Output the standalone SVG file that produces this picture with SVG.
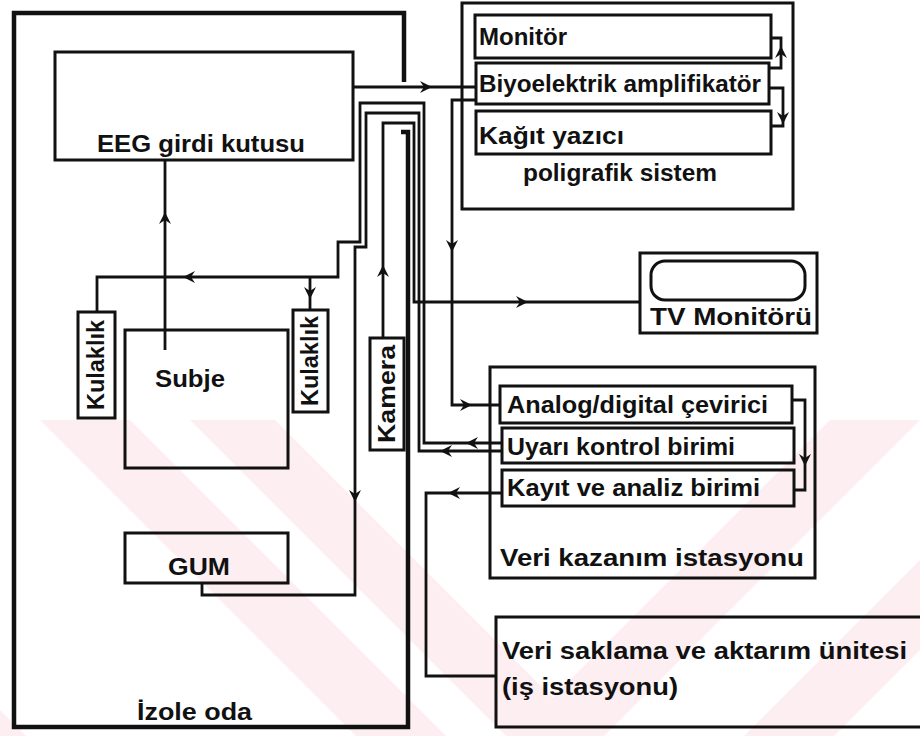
<svg xmlns="http://www.w3.org/2000/svg" xmlns:xlink="http://www.w3.org/1999/xlink" width="920" height="736" viewBox="0 0 920 736">
<style>
.box{fill:none;stroke:#111;stroke-width:3}
.room{fill:none;stroke:#111;stroke-width:4.5}
.wire{fill:none;stroke:#111;stroke-width:2.8}
.t{font-family:"Liberation Sans",Arial,sans-serif;font-weight:bold;fill:#111;font-size:23px}
.wm{fill:#fdeef1}
</style>
<defs>
<path id="ah" d="M0,0 L-12,-6 L-8,0 L-12,6 Z" fill="#111"/>
<clipPath id="wmclip"><rect x="0" y="420" width="920" height="316"/></clipPath>
</defs>
<rect width="920" height="736" fill="#fff"/>
<g id="watermark" clip-path="url(#wmclip)">
<polygon class="wm" points="40,420 130,420 446,736 356,736"/>
<polygon class="wm" points="190,420 275,420 591,736 506,736"/>
<polygon class="wm" points="830,420 920,420 604,736 514,736"/>
<polygon class="wm" points="920,560 920,650 834,736 744,736"/>
<polygon class="wm" points="0,620 0,710 26,736 0,736"/>
</g>

<g id="izole-oda">
<path class="room" d="M404,82 V13 H14 V727 H408 V132 H401"/>
<text class="t" x="137" y="720" textLength="115" lengthAdjust="spacingAndGlyphs">İzole oda</text>
</g>

<g id="eeg">
<rect class="box" x="55" y="52" width="298" height="108"/>
<text class="t" x="97" y="152" font-size="25" textLength="208" lengthAdjust="spacingAndGlyphs">EEG girdi kutusu</text>
</g>

<g id="subje">
<rect class="box" x="125" y="330" width="163" height="138"/>
<text class="t" x="155" y="387" font-size="24" textLength="70" lengthAdjust="spacingAndGlyphs">Subje</text>
</g>

<g id="kulaklik-sol">
<rect class="box" x="78" y="312" width="37" height="106"/>
<text class="t" transform="translate(96.5,365) rotate(-90)" x="0" y="7.5" text-anchor="middle" font-size="21" textLength="90" lengthAdjust="spacingAndGlyphs">Kulaklık</text>
</g>

<g id="kulaklik-sag">
<rect class="box" x="293" y="310" width="35" height="102"/>
<text class="t" transform="translate(310.5,361) rotate(-90)" x="0" y="7.5" text-anchor="middle" font-size="21" textLength="90" lengthAdjust="spacingAndGlyphs">Kulaklık</text>
</g>

<g id="kamera">
<rect class="box" x="370" y="338" width="34" height="112"/>
<text class="t" transform="translate(387,394) rotate(-90)" x="0" y="7.5" text-anchor="middle" font-size="21" textLength="98" lengthAdjust="spacingAndGlyphs">Kamera</text>
</g>

<g id="gum">
<rect class="box" x="125" y="533" width="163" height="50"/>
<text class="t" x="168" y="575" font-size="22" textLength="62" lengthAdjust="spacingAndGlyphs">GUM</text>
</g>

<g id="poligrafik-sistem">
<rect class="box" x="462" y="3" width="331" height="206"/>
<text class="t" x="523" y="181" textLength="194" lengthAdjust="spacingAndGlyphs">poligrafik sistem</text>
</g>
<g id="monitor">
<rect class="box" x="475" y="15" width="296" height="43"/>
<text class="t" x="479" y="45" textLength="88" lengthAdjust="spacingAndGlyphs">Monitör</text>
</g>
<g id="biyoelektrik">
<rect class="box" x="476" y="63" width="293" height="41"/>
<text class="t" x="479" y="92" textLength="282" lengthAdjust="spacingAndGlyphs">Biyoelektrik amplifikatör</text>
</g>
<g id="kagit-yazici">
<rect class="box" x="476" y="111" width="295" height="43"/>
<text class="t" x="479" y="144" textLength="145" lengthAdjust="spacingAndGlyphs">Kağıt yazıcı</text>
</g>

<g id="tv-monitoru">
<rect class="box" x="640" y="253" width="177" height="80"/>
<rect class="box" x="651" y="261" width="154" height="39" rx="14"/>
<text class="t" x="650" y="325" textLength="162" lengthAdjust="spacingAndGlyphs">TV Monitörü</text>
</g>

<g id="veri-kazanim">
<rect class="box" x="490" y="367" width="325" height="211"/>
<text class="t" x="500" y="566" textLength="304" lengthAdjust="spacingAndGlyphs">Veri kazanım istasyonu</text>
</g>
<g id="ad-cevirici">
<rect class="box" x="500" y="386" width="292" height="37"/>
<text class="t" x="507" y="413" textLength="261" lengthAdjust="spacingAndGlyphs">Analog/digital çevirici</text>
</g>
<g id="uyari-kontrol">
<rect class="box" x="502" y="428" width="292" height="35"/>
<text class="t" x="507" y="455" textLength="228" lengthAdjust="spacingAndGlyphs">Uyarı kontrol birimi</text>
</g>
<g id="kayit-analiz">
<rect class="box" x="502" y="470" width="292" height="36"/>
<text class="t" x="507" y="496" textLength="253" lengthAdjust="spacingAndGlyphs">Kayıt ve analiz birimi</text>
</g>

<g id="veri-saklama">
<rect class="box" x="496" y="617" width="440" height="110"/>
<text class="t" x="502" y="659" font-size="24" textLength="405" lengthAdjust="spacingAndGlyphs">Veri saklama ve aktarım ünitesi</text>
<text class="t" x="502" y="695" font-size="24" textLength="176" lengthAdjust="spacingAndGlyphs">(iş istasyonu)</text>
</g>

<g id="connectors">
<path class="wire" d="M165,350 V160"/>
<use xlink:href="#ah" transform="translate(165,212) rotate(-90)"/>
<path class="wire" d="M353,87 H476"/>
<use xlink:href="#ah" transform="translate(432,87)"/>
<path class="wire" d="M769,68 H781 V38 H771"/>
<use xlink:href="#ah" transform="translate(781,46) rotate(-90)"/>
<path class="wire" d="M769,88 H783 V126 H771"/>
<use xlink:href="#ah" transform="translate(783,124) rotate(90)"/>
<path class="wire" d="M476,100 H452 V405 H500"/>
<use xlink:href="#ah" transform="translate(452,252) rotate(90)"/>
<use xlink:href="#ah" transform="translate(472,405)"/>
<path class="wire" d="M97,312 V277 H338 V242 H360 V103 H424 V443 H502"/>
<path class="wire" d="M310,277 V310"/>
<use xlink:href="#ah" transform="translate(183,277) rotate(180)"/>
<use xlink:href="#ah" transform="translate(310,299) rotate(90)"/>
<use xlink:href="#ah" transform="translate(466,443) rotate(180)"/>
<path class="wire" d="M202,583 V595 H355 V247 H366 V113 H419 V451 H502"/>
<use xlink:href="#ah" transform="translate(355,502) rotate(90)"/>
<use xlink:href="#ah" transform="translate(440,451) rotate(180)"/>
<path class="wire" d="M383,338 V123 H414 V302 H640"/>
<use xlink:href="#ah" transform="translate(383,265) rotate(-90)"/>
<use xlink:href="#ah" transform="translate(528,302)"/>
<path class="wire" d="M792,400 H805 V490 H794"/>
<use xlink:href="#ah" transform="translate(805,466) rotate(90)"/>
<path class="wire" d="M502,493 H426 V676 H496"/>
<use xlink:href="#ah" transform="translate(448,493) rotate(180)"/>
</g>
</svg>
